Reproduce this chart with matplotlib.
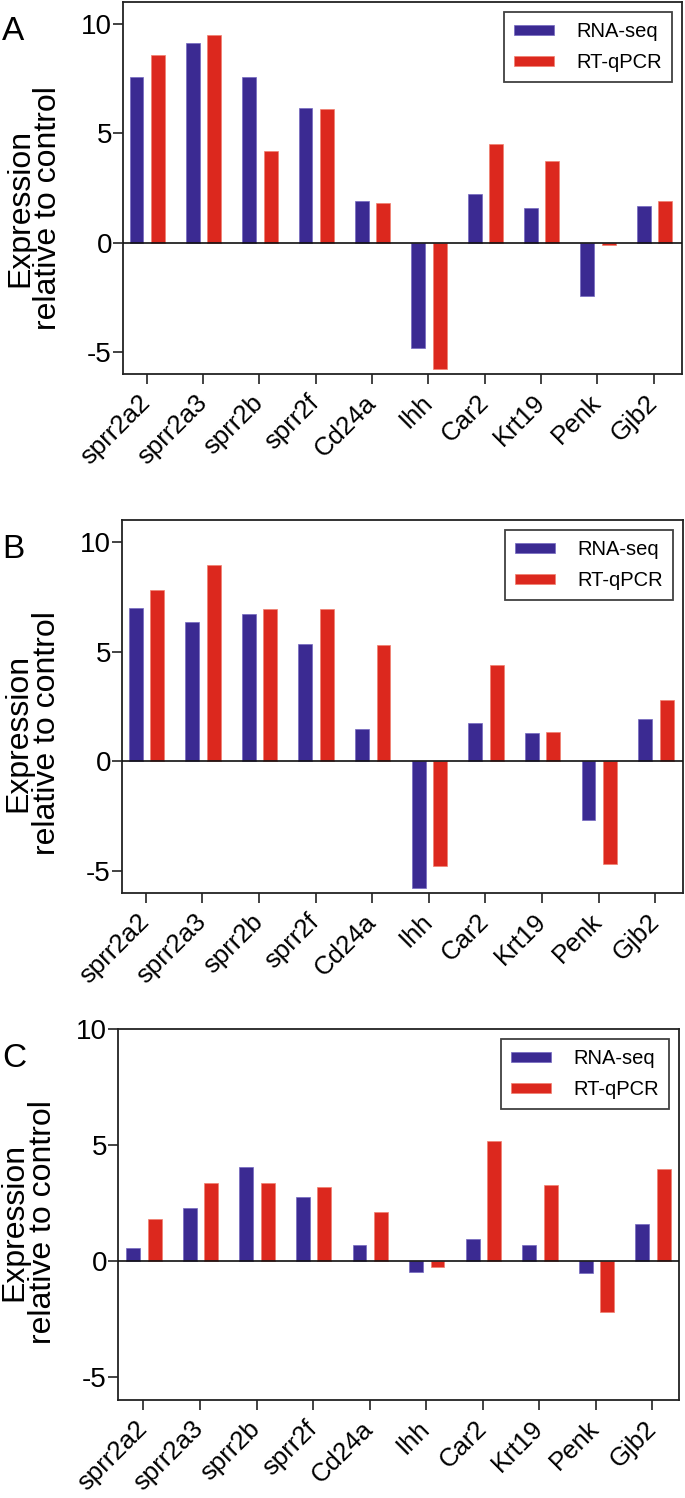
import numpy as np
import matplotlib.pyplot as plt

plt.rcParams['font.family'] = ['Liberation Sans', 'DejaVu Sans']
plt.rcParams['axes.unicode_minus'] = False

# genes on the x axis (same for all three panels)
genes = ['sprr2a2', 'sprr2a3', 'sprr2b', 'sprr2f', 'Cd24a',
         'Ihh', 'Car2', 'Krt19', 'Penk', 'Gjb2']

# panel A
rna_a = [7.58, 9.13, 7.58, 6.16, 1.89, -4.83, 2.24, 1.57, -2.44, 1.70]
qpcr_a = [8.58, 9.51, 4.18, 6.12, 1.81, -5.79, 4.50, 3.74, -0.11, 1.92]

# panel B
rna_b = [6.97, 6.36, 6.71, 5.35, 1.47, -5.79, 1.77, 1.27, -2.68, 1.95]
qpcr_b = [7.82, 8.95, 6.93, 6.95, 5.30, -4.79, 4.40, 1.32, -4.66, 2.79]

# panel C
rna_c = [0.54, 2.27, 4.05, 2.75, 0.67, -0.46, 0.96, 0.70, -0.53, 1.59]
qpcr_c = [1.79, 3.37, 3.35, 3.19, 2.09, -0.26, 5.15, 3.26, -2.21, 3.95]

yticks = [-5, 0, 5, 10]

blue = '#3B2A92'
red = '#DC281E'

W, H = 685, 1498
fig = plt.figure(figsize=(W / 100, H / 100), dpi=100)

# (letter, rna, qpcr, axes box in px [left, top, right, bottom], xlim, ylim, label y)
panels = [
    ('A', rna_a, qpcr_a, (123, 2, 682, 374), (-0.42, 9.5), (-6, 11), 0.446),
    ('B', rna_b, qpcr_b, (122, 520, 683, 893), (-0.42, 9.49), (-6, 11), 0.43),
    ('C', rna_c, qpcr_c, (118, 1029, 679, 1400), (-0.45, 9.47), (-6, 10), 0.48),
]

x = np.arange(len(genes))

for letter, rna, qpcr, box, xl, yl, ly in panels:
    l, t, r, b = box
    ax = fig.add_axes([l / W, 1 - b / H, (r - l) / W, (b - t) / H])
    ax.bar(x - 0.18, rna, 0.245, color=blue, edgecolor='#7468c0',
           linewidth=0.5, label='RNA-seq', zorder=2)
    ax.bar(x + 0.2, qpcr, 0.245, color=red, edgecolor='#f0806f',
           linewidth=0.5, label='RT-qPCR', zorder=2)
    ax.axhline(0, color='#111111', lw=1.2, zorder=3)
    ax.set_xlim(*xl)
    ax.set_ylim(*yl)
    ax.set_yticks(yticks)
    ax.set_xticks(x)
    ax.set_xticklabels(genes, rotation=45, ha='right', va='center',
                       rotation_mode='anchor')
    ax.tick_params(axis='both', direction='out', length=7, width=1.2,
                   color='#222222')
    ax.tick_params(axis='y', pad=1, labelsize=20)
    ax.tick_params(axis='x', pad=11, labelsize=18.5)
    for s in ax.spines.values():
        s.set_linewidth(1.3)
        s.set_color('#222222')
    ax.set_ylabel('Expression\nrelative to control', fontsize=23,
                  linespacing=0.92)
    ax.yaxis.set_label_coords(-0.107, ly)
    leg = ax.legend(loc='upper right', fontsize=14.5, frameon=True,
                    fancybox=False, edgecolor='#111111', handlelength=2.0,
                    handleheight=0.35, handletextpad=1.1, labelspacing=0.6,
                    borderpad=0.5, borderaxespad=0.5)
    leg.get_frame().set_linewidth(1.3)
    fig.text(2 / W, 1 - (t + 14) / H, letter, fontsize=24, va='top', ha='left')

fig.savefig('out.png', dpi=100)
